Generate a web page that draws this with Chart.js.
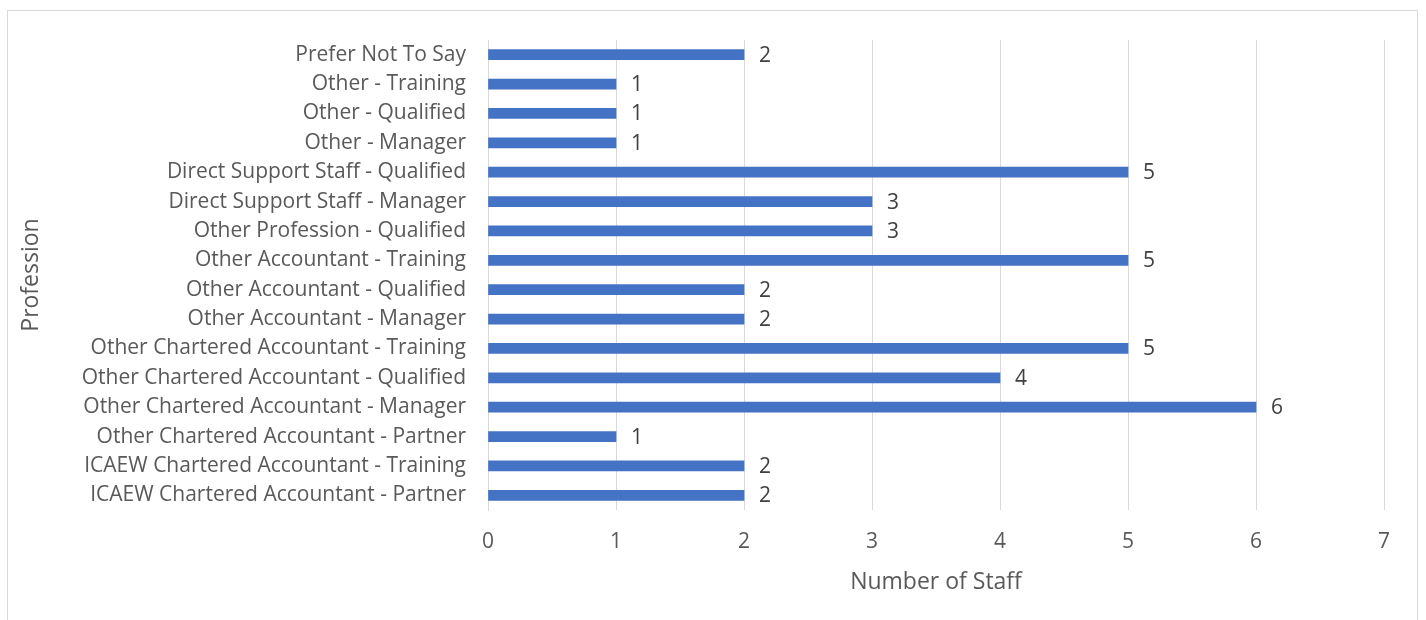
<!DOCTYPE html>
<html>
<head>
<meta charset="utf-8">
<script src="https://cdn.jsdelivr.net/npm/chart.js@4/dist/chart.umd.min.js"></script>
<style>
  html, body { margin: 0; padding: 0; background: #fff; }
  #wrap { position: relative; width: 1426px; height: 620px; overflow: hidden; }
  #frame { position: absolute; left: 7px; top: 10px; width: 1411px; height: 640px;
           border: 1px solid #d9d9d9; box-sizing: border-box; }
  canvas { position: absolute; left: 0; top: 0; }
</style>
</head>
<body>
<div id="wrap">
  <div id="frame"></div>
  <canvas id="chart" width="1426" height="620"></canvas>
</div>
<script>
// Staff count per profession, listed top to bottom
const professions = [
  "Prefer Not To Say",
  "Other - Training",
  "Other - Qualified",
  "Other - Manager",
  "Direct Support Staff - Qualified",
  "Direct Support Staff - Manager",
  "Other Profession - Qualified",
  "Other Accountant - Training",
  "Other Accountant - Qualified",
  "Other Accountant - Manager",
  "Other Chartered Accountant - Training",
  "Other Chartered Accountant - Qualified",
  "Other Chartered Accountant - Manager",
  "Other Chartered Accountant - Partner",
  "ICAEW Chartered Accountant - Training",
  "ICAEW Chartered Accountant - Partner"
];
const staffCounts = [2, 1, 1, 1, 5, 3, 3, 5, 2, 2, 5, 4, 6, 1, 2, 2];
const xTicks = [0, 1, 2, 3, 4, 5, 6, 7];

const FONT = "'Open Sans', 'Noto Sans', sans-serif";
const TEXT = "#595959";

// Writes each bar's value just past its end
const valueLabels = {
  id: "valueLabels",
  afterDatasetsDraw(chart) {
    const ctx = chart.ctx;
    const meta = chart.getDatasetMeta(0);
    ctx.save();
    ctx.font = "21px " + FONT;
    ctx.fillStyle = "#404040";
    ctx.textAlign = "left";
    ctx.textBaseline = "middle";
    meta.data.forEach((bar, i) => {
      ctx.fillText(String(staffCounts[i]), bar.x + 15, bar.y + 1);
    });
    ctx.restore();
  }
};

new Chart(document.getElementById("chart"), {
  type: "bar",
  data: {
    labels: professions,
    datasets: [{
      data: staffCounts,
      backgroundColor: "#4472c4",
      barThickness: 10,
      borderWidth: 0
    }]
  },
  options: {
    indexAxis: "y",
    responsive: false,
    animation: false,
    layout: { padding: { top: 40, right: 42, bottom: 0, left: 18 } },
    plugins: { legend: { display: false }, tooltip: { enabled: false } },
    scales: {
      x: {
        min: 0, max: 7,
        afterBuildTicks(scale) { scale.ticks = xTicks.map(v => ({ value: v })); },
        grid: { color: "#d9d9d9", lineWidth: 1, drawTicks: false },
        border: { display: false },
        ticks: { color: TEXT, font: { family: FONT, size: 21 }, padding: 19 },
        title: { display: true, text: "Number of Staff", color: TEXT,
                 font: { family: FONT, size: 23 }, padding: { top: 10, bottom: 24 } },
        afterFit(scale) { scale.height = 110; }
      },
      y: {
        grid: { display: false, drawTicks: false },
        border: { display: true, color: "#d9d9d9", width: 1 },
        ticks: { color: TEXT, font: { family: FONT, size: 21 }, padding: 22, autoSkip: false },
        title: { display: true, text: "Profession", color: TEXT,
                 font: { family: FONT, size: 23 }, padding: 0 },
        afterFit(scale) { scale.width = 470; }
      }
    }
  },
  plugins: [valueLabels]
});
</script>
</body>
</html>
